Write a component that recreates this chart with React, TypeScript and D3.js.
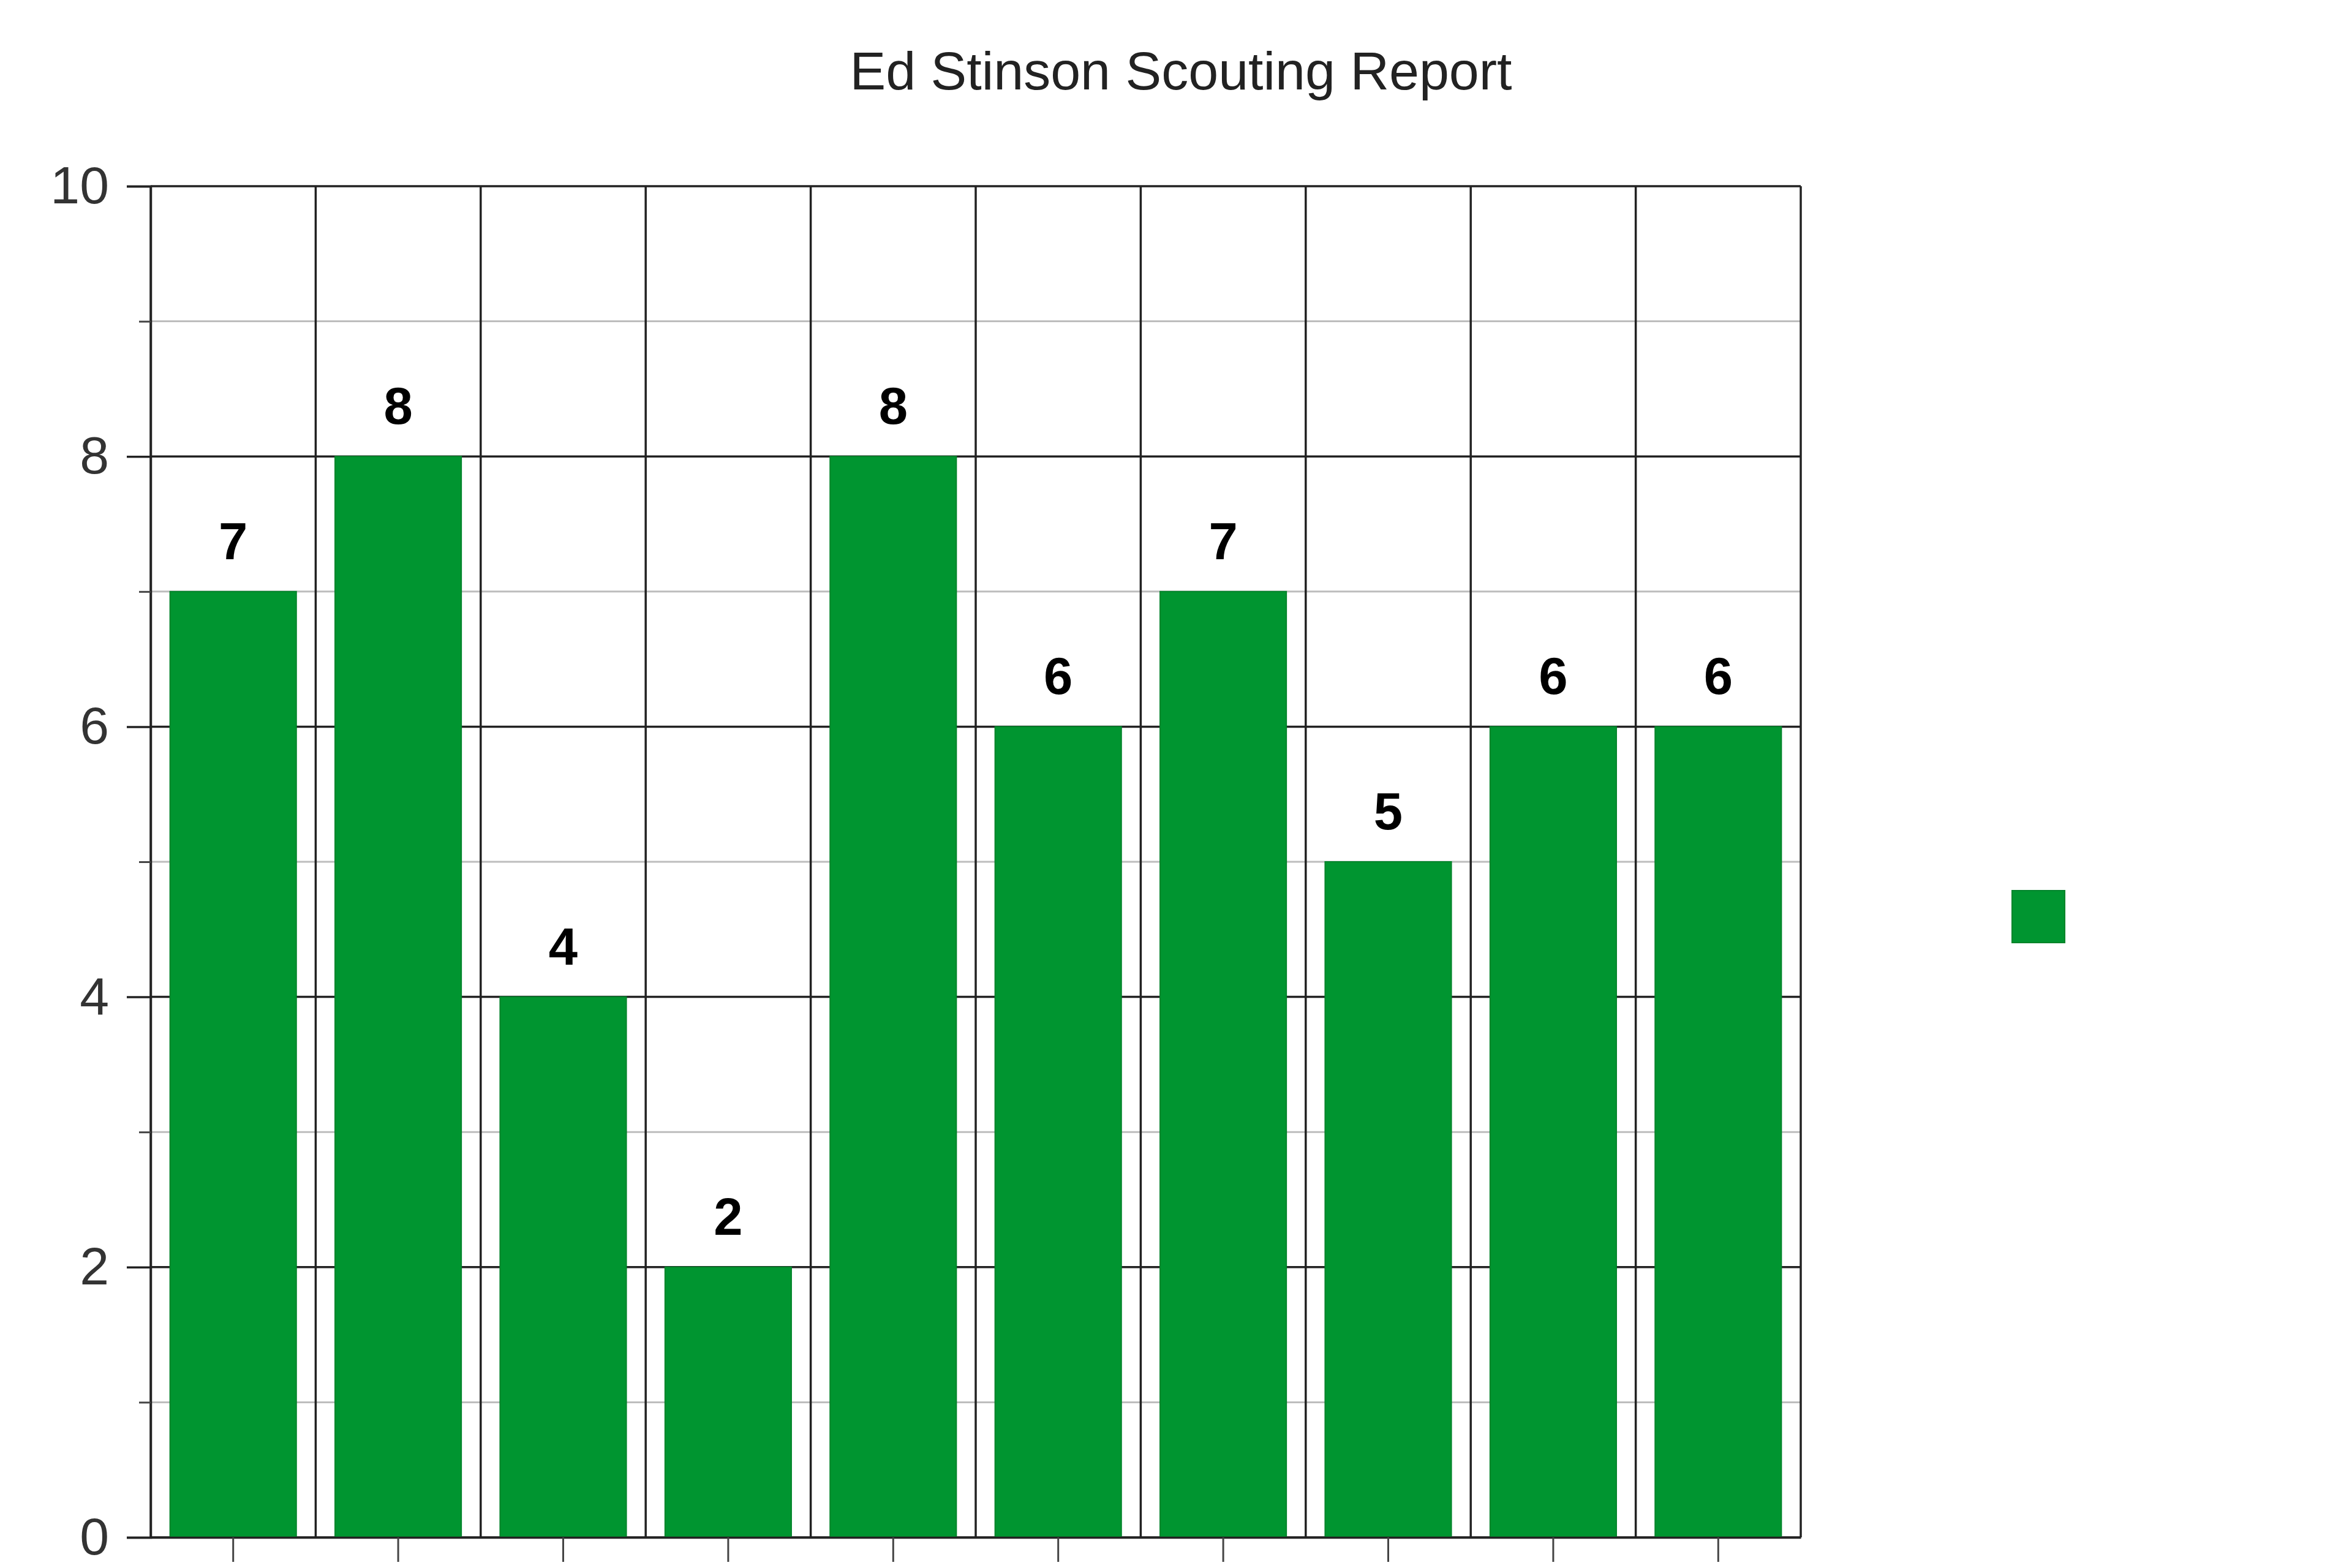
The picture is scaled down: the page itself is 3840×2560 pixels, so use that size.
import React, { useRef, useEffect } from "react"
import * as d3 from "d3"

// scouting grades, one bar per category (no x labels shown in the chart)
const categories = ["C1", "C2", "C3", "C4", "C5", "C6", "C7", "C8", "C9", "C10"]
const grades = [7, 8, 4, 2, 8, 6, 7, 5, 6, 6]
const majorTicks = [0, 2, 4, 6, 8, 10]
const minorTicks = [1, 3, 5, 7, 9]
const title = "Ed Stinson Scouting Report"

const width = 3840
const height = 2560
const margin = { top: 304, right: 900, bottom: 50, left: 246 }
const green = "#009530"
const font = "'Liberation Sans', Arial, sans-serif"

function drawChart(svgEl: SVGSVGElement) {
  const svg = d3.select(svgEl)
  svg.selectAll("*").remove()

  const plotW = width - margin.left - margin.right
  const plotH = height - margin.top - margin.bottom

  const x = d3.scaleBand().domain(categories).range([0, plotW]).paddingInner(0).paddingOuter(0)
  const y = d3.scaleLinear().domain([0, 10]).range([plotH, 0])

  svg
    .append("rect")
    .attr("width", width)
    .attr("height", height)
    .attr("fill", "#fff")

  svg
    .append("text")
    .attr("x", 1928)
    .attr("y", 146)
    .attr("text-anchor", "middle")
    .attr("font-family", font)
    .attr("font-size", 88)
    .attr("fill", "#222")
    .text(title)

  const g = svg
    .append("g")
    .attr("transform", `translate(${margin.left},${margin.top})`)

  // horizontal grid: light at odd values, dark at even
  g.selectAll(".hgrid-minor")
    .data(minorTicks)
    .enter()
    .append("line")
    .attr("x1", 0)
    .attr("x2", plotW)
    .attr("y1", d => y(d))
    .attr("y2", d => y(d))
    .attr("stroke", "#bdbdbd")
    .attr("stroke-width", 3)

  g.selectAll(".hgrid-major")
    .data(majorTicks)
    .enter()
    .append("line")
    .attr("x1", 0)
    .attr("x2", plotW)
    .attr("y1", d => y(d))
    .attr("y2", d => y(d))
    .attr("stroke", "#222")
    .attr("stroke-width", 3.5)

  // vertical grid at category boundaries
  const bounds = categories.map(c => x(c) as number).concat([plotW])
  g.selectAll(".vgrid")
    .data(bounds)
    .enter()
    .append("line")
    .attr("x1", d => d)
    .attr("x2", d => d)
    .attr("y1", 0)
    .attr("y2", plotH)
    .attr("stroke", "#222")
    .attr("stroke-width", 3.5)

  const barW = x.bandwidth() * 0.765
  const barOff = (x.bandwidth() - barW) / 2

  g.selectAll(".bar")
    .data(grades)
    .enter()
    .append("rect")
    .attr("x", (d, i) => (x(categories[i]) as number) + barOff)
    .attr("y", d => y(d))
    .attr("width", barW)
    .attr("height", d => plotH - y(d))
    .attr("fill", green)
    .attr("stroke", "#00842a")
    .attr("stroke-width", 2)

  g.selectAll(".label")
    .data(grades)
    .enter()
    .append("text")
    .attr("x", (d, i) => (x(categories[i]) as number) + x.bandwidth() / 2)
    .attr("y", d => y(d) - 53)
    .attr("text-anchor", "middle")
    .attr("font-family", font)
    .attr("font-weight", "bold")
    .attr("font-size", 85)
    .attr("fill", "#000")
    .text(d => String(d))

  // left axis, major ticks with labels
  const yAxis = d3
    .axisLeft(y)
    .tickValues(majorTicks)
    .tickSize(39)
    .tickPadding(29)
    .tickFormat(d3.format("d"))
  const yG = g.append("g").call(yAxis)
  yG.select(".domain").attr("stroke", "#222").attr("stroke-width", 3.5)
  yG.selectAll(".tick line").attr("stroke", "#222").attr("stroke-width", 3.5)
  yG.selectAll(".tick text")
    .attr("font-family", font)
    .attr("font-size", 86)
    .attr("fill", "#333")

  // minor ticks
  const yMinor = d3.axisLeft(y).tickValues(minorTicks).tickSize(19).tickFormat(() => "")
  const yMinorG = g.append("g").call(yMinor)
  yMinorG.select(".domain").remove()
  yMinorG.selectAll(".tick line").attr("stroke", "#444").attr("stroke-width", 3)

  // bottom axis: ticks at band centres, no labels
  const xAxis = d3.axisBottom(x).tickSize(40).tickSizeOuter(0).tickFormat(() => "")
  const xG = g.append("g").attr("transform", `translate(0,${plotH})`).call(xAxis)
  xG.select(".domain").attr("stroke", "#222").attr("stroke-width", 3.5)
  xG.selectAll(".tick line").attr("stroke", "#444").attr("stroke-width", 3)

  // legend swatch without text
  svg
    .append("rect")
    .attr("x", 3285)
    .attr("y", 1454)
    .attr("width", 86)
    .attr("height", 85)
    .attr("fill", green)
    .attr("stroke", "#00842a")
    .attr("stroke-width", 2)
}

export default function App() {
  const svgRef = useRef<SVGSVGElement>(null)

  useEffect(() => {
    document.body.style.margin = "0"
    if (svgRef.current) drawChart(svgRef.current)
  }, [])

  return <svg ref={svgRef} width={width} height={height} style={{ display: "block" }} />
}
